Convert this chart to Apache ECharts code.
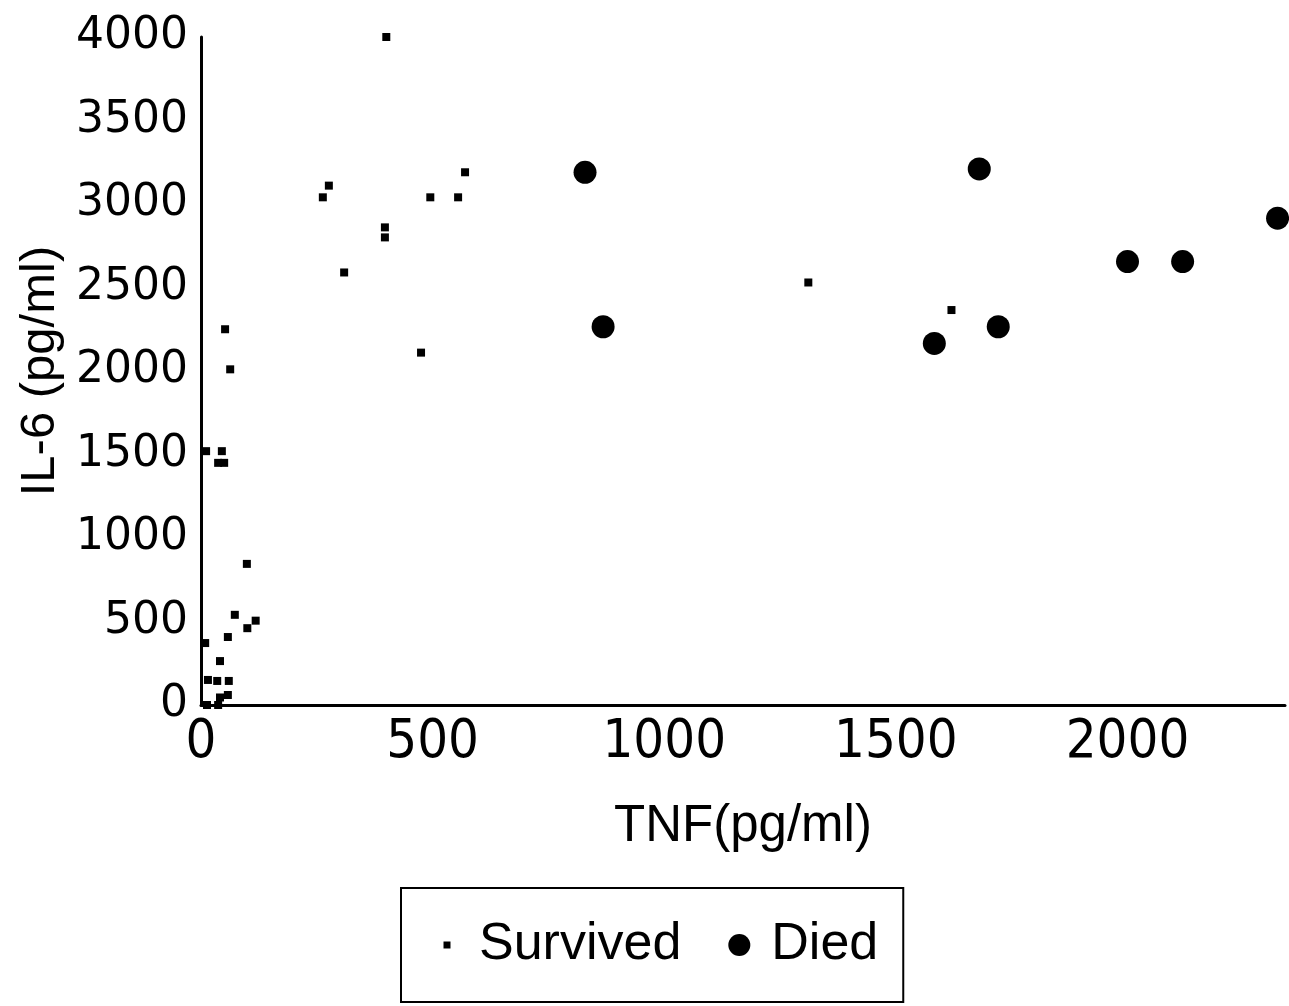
<!DOCTYPE html>
<html>
<head>
<meta charset="utf-8">
<script src="https://cdn.jsdelivr.net/npm/echarts@6/dist/echarts.min.js"></script>
<style>
html,body{margin:0;padding:0;background:#fff;}
#chart{width:1289px;height:1006px;}
</style>
</head>
<body>
<div id="chart"></div>
<script>
// TNF (pg/ml), IL-6 (pg/ml) pairs
const survivedTNF = [400, 276, 263, 570, 495, 555, 397, 397, 309, 475, 1311, 1620,
  52, 63, 11, 45, 37, 50, 99, 73, 100, 118, 58, 9, 41, 15, 35, 60, 58, 41, 37, 13];
const survivedIL6 = [4000, 3110, 3040, 3190, 3040, 3040, 2860, 2800, 2590, 2110, 2530, 2365,
  2250, 2010, 1520, 1520, 1450, 1450, 845, 540, 460, 505, 407, 371, 263, 150, 144, 144, 60, 45, 0, 0];
const diedTNF = [829, 868, 1680, 2324, 2000, 2119, 1721, 1583];
const diedIL6 = [3190, 2265, 3210, 2915, 2655, 2655, 2265, 2165];
const xTicks = [0, 500, 1000, 1500, 2000];
const yTicks = [0, 500, 1000, 1500, 2000, 2500, 3000, 3500, 4000];

const pair = (xs, ys) => xs.map((x, i) => [x, ys[i]]);

const chart = echarts.init(document.getElementById('chart'), null, {renderer: 'canvas'});
chart.setOption({
  backgroundColor: '#fff',
  animation: false,
  grid: {left: 201, right: 4, top: 37, bottom: 301, containLabel: false},
  xAxis: {
    type: 'value', min: 0, max: 2340, interval: 500,
    name: 'TNF(pg/ml)', nameLocation: 'middle', nameGap: 96,
    nameTextStyle: {fontFamily: '"Liberation Sans", Arial, sans-serif', fontSize: 51, color: '#000'},
    axisLine: {show: true, lineStyle: {color: '#000', width: 3}},
    axisTick: {show: false},
    splitLine: {show: false},
    axisLabel: {
      margin: 11, color: '#000', fontSize: 54,
      fontFamily: '"Liberation Sans Narrow", "DejaVu Sans Condensed", "Liberation Sans", sans-serif',
      formatter: v => xTicks.includes(v) ? String(v) : ''
    }
  },
  yAxis: {
    type: 'value', min: 0, max: 4000, interval: 500,
    name: 'IL-6 (pg/ml)', nameLocation: 'middle', nameGap: 124,
    nameTextStyle: {fontFamily: '"Liberation Sans", Arial, sans-serif', fontSize: 49, color: '#000'},
    axisLine: {show: true, lineStyle: {color: '#000', width: 3}},
    axisTick: {show: false},
    splitLine: {show: false},
    axisLabel: {
      margin: 13, color: '#000', fontSize: 44,
      fontFamily: '"DejaVu Sans", sans-serif',
      formatter: v => yTicks.includes(v) ? String(v) : ''
    }
  },
  legend: {
    show: true,
    left: 401, top: 888,
    orient: 'horizontal',
    padding: [31, 25, 31, 35],
    borderColor: '#000', borderWidth: 2,
    itemWidth: 22, itemHeight: 22, itemGap: 47,
    textStyle: {fontFamily: '"Liberation Sans", Arial, sans-serif', fontSize: 52, color: '#000',
      lineHeight: 52, padding: [0, 0, 0, 16]},
    data: [
      {name: 'Survived', icon: 'path://M0,0M22,22M7.5,7.5h7v7h-7z', itemStyle: {color: '#000', opacity: 1}},
      {name: 'Died', icon: 'circle', itemStyle: {color: '#000', opacity: 1}}
    ]
  },
  series: [
    {name: 'Survived', type: 'scatter', symbol: 'rect', symbolSize: 8,
      itemStyle: {color: '#000', opacity: 1}, data: pair(survivedTNF, survivedIL6)},
    {name: 'Died', type: 'scatter', symbol: 'circle', symbolSize: 23,
      itemStyle: {color: '#000', opacity: 1}, data: pair(diedTNF, diedIL6)}
  ]
});
</script>
</body>
</html>
